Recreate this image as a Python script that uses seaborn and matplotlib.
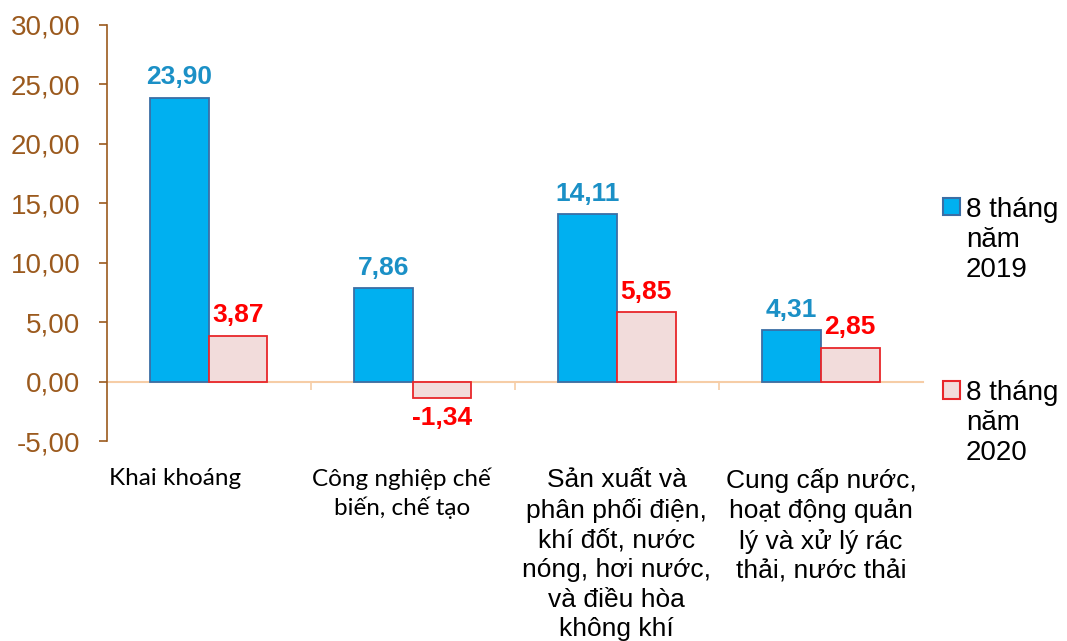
import pandas as pd
import seaborn as sns
import matplotlib.pyplot as plt
import matplotlib.transforms as mtransforms
from matplotlib.patches import Rectangle
from matplotlib.legend_handler import HandlerPatch

# Data
categories = [
    'Khai khoáng',
    'Công nghiệp chế\nbiến, chế tạo',
    'Sản xuất và\nphân phối điện,\nkhí đốt, nước\nnóng, hơi nước,\nvà điều hòa\nkhông khí',
    'Cung cấp nước,\nhoạt động quản\nlý và xử lý rác\nthải, nước thải',
]
series = ['8 tháng\nnăm\n2019', '8 tháng\nnăm\n2020']
values_2019 = [23.90, 7.86, 14.11, 4.31]
values_2020 = [3.87, -1.34, 5.85, 2.85]
y_ticks = [-5, 0, 5, 10, 15, 20, 25, 30]

df = pd.DataFrame({
    'Ngành': categories * 2,
    'Kỳ': [series[0]] * 4 + [series[1]] * 4,
    'Giá trị': values_2019 + values_2020,
})

sns.set_style('white')
plt.rcParams['font.family'] = ['Liberation Sans', 'DejaVu Sans']

fill_colors = ['#00B0F0', '#F2DCDB']
edge_colors = ['#3B6EA5', '#E8262A']
label_colors = ['#1B90C6', '#FF0000']
brown = '#9B5A1E'
peach = '#F6CDA6'

fig = plt.figure(figsize=(10.67, 6.41), dpi=100)
ax = fig.add_axes([0.100, 0.312, 0.765, 0.649])

sns.barplot(data=df, x='Ngành', y='Giá trị', hue='Kỳ', palette=fill_colors,
            saturation=1, width=0.575, ax=ax, legend=False)

for cont, ec, lc in zip(ax.containers, edge_colors, label_colors):
    for bar in cont:
        bar.set_edgecolor(ec)
        bar.set_linewidth(1.3)
    ax.bar_label(cont, labels=[f'{b.get_height():.2f}'.replace('.', ',') for b in cont],
                 padding=6, color=lc, fontsize=19, fontweight='bold')

ax.set_xlim(-0.5, 3.5)
ax.set_ylim(-5, 30)
ax.set_yticks(y_ticks)
ax.set_yticklabels([f'{t:.2f}'.replace('.', ',') for t in y_ticks])
ax.set_xlabel('')
ax.set_ylabel('')

for s in ['top', 'right']:
    ax.spines[s].set_visible(False)
ax.spines['left'].set_color(brown)
ax.spines['left'].set_linewidth(1.2)
ax.spines['bottom'].set_position(('data', 0))
ax.spines['bottom'].set_color(peach)
ax.spines['bottom'].set_linewidth(1.5)
ax.spines['bottom'].set_zorder(0)

ax.tick_params(axis='y', left=True, colors=brown, labelsize=20, length=6, width=1.2,
               direction='out', pad=13)
ax.set_xticks([0.5, 1.5, 2.5], minor=True)
ax.tick_params(axis='x', which='minor', bottom=True, length=6, width=1.2, color=peach, direction='out')
ax.tick_params(axis='x', which='major', length=0, pad=62, labelcolor='black')

# first two labels use a narrower font and sit slightly left of centre
shifts = [-34, -11, 0, 0]
for i, lab in enumerate(ax.get_xticklabels()):
    if i < 2:
        lab.set_fontfamily('Lato')
        lab.set_fontsize(17.5)
        lab.set_linespacing(1.36)
    else:
        lab.set_fontsize(19)
        lab.set_linespacing(1.3)
    lab.set_transform(lab.get_transform() + mtransforms.ScaledTranslation(shifts[i] / 100, 0, fig.dpi_scale_trans))


class TopHandler(HandlerPatch):
    def create_artists(self, legend, orig_handle, xdescent, ydescent, width, height, fontsize, trans):
        p = Rectangle((-xdescent, -ydescent + 1.2 * fontsize), width, height, transform=trans,
                      facecolor=orig_handle.get_facecolor(), edgecolor=orig_handle.get_edgecolor(),
                      linewidth=1.5)
        return [p]


handles = [Rectangle((0, 0), 1, 1, facecolor=f, edgecolor=e) for f, e in zip(fill_colors, edge_colors)]
leg = fig.legend(handles, series, loc='upper left', bbox_to_anchor=(0.884, 0.693),
                 frameon=False, fontsize=20, handlelength=0.6, handleheight=0.6,
                 handletextpad=0.22, labelspacing=3.5, borderpad=0, borderaxespad=0,
                 labelcolor='black', handler_map={Rectangle: TopHandler()})
for t in leg.get_texts():
    t.set_linespacing(1.2)

plt.savefig('out.png', dpi=100)
